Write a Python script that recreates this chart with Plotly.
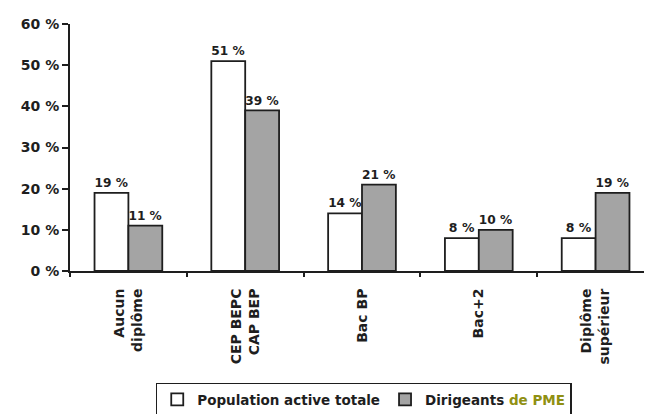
import plotly.graph_objects as go

categories = ["Aucun<br>diplôme", "CEP BEPC<br>CAP BEP", "Bac BP", "Bac+2", "Diplôme<br>supérieur"]
population_active = [19, 51, 14, 8, 8]
dirigeants_pme = [11, 39, 21, 10, 19]

font_family = "DejaVu Sans, Verdana, sans-serif"
ink = "#1e1e1e"

fig = go.Figure()
fig.add_trace(go.Bar(
    x=categories, y=population_active,
    name="Population active totale",
    marker=dict(color="white", line=dict(color=ink, width=1.8)),
    text=[f"{v} %" for v in population_active],
    textposition="outside",
    textfont=dict(size=12.5, color=ink, family=font_family, weight="bold"),
    cliponaxis=False,
))
fig.add_trace(go.Bar(
    x=categories, y=dirigeants_pme,
    name="Dirigeants <span style='color:#909012'>de PME</span>",
    marker=dict(color="#a4a4a4", line=dict(color=ink, width=1.8)),
    text=[f"{v} %" for v in dirigeants_pme],
    textposition="outside",
    textfont=dict(size=12.5, color=ink, family=font_family, weight="bold"),
    cliponaxis=False,
))

fig.update_layout(
    width=652, height=414,
    margin=dict(l=62, r=6, t=16, b=151),
    paper_bgcolor="white", plot_bgcolor="white",
    font=dict(family=font_family, size=13, color=ink, weight="bold"),
    barmode="group",
    bargap=0.42, bargroupgap=0,
    showlegend=True,
    legend=dict(
        orientation="h",
        x=0.503, xanchor="center",
        y=-0.452, yanchor="top",
        bordercolor=ink, borderwidth=1.5,
        font=dict(size=13.5, family=font_family, weight="bold", color=ink),
        traceorder="normal",
    ),
    xaxis=dict(
        showline=True, linecolor=ink, linewidth=2,
        ticks="outside", tickson="boundaries", ticklen=4, tickwidth=1.5, tickcolor=ink,
        tickangle=-90,
        ticklabelstandoff=10,
        tickfont=dict(size=14, family=font_family, weight="bold", color=ink),
        showgrid=False,
        automargin=False,
    ),
    yaxis=dict(
        range=[0, 60], dtick=10,
        ticksuffix=" %",
        showline=True, linecolor=ink, linewidth=2,
        ticks="outside", ticklen=6, tickwidth=1.5, tickcolor=ink,
        tickfont=dict(size=14, family=font_family, weight="bold", color=ink),
        showgrid=False, zeroline=False,
        automargin=False,
    ),
)

fig.write_html("out.html")
